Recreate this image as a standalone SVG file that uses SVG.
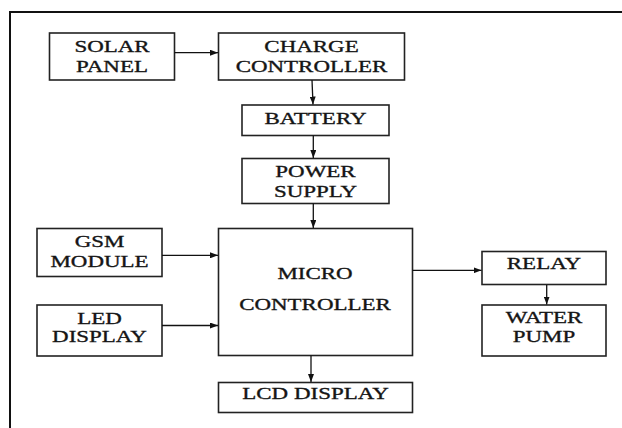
<svg xmlns="http://www.w3.org/2000/svg" width="622" height="428" viewBox="0 0 622 428">
<style>
.box{fill:#fff;stroke:#222;stroke-width:1.6}
.t{font-family:"Liberation Serif","Times New Roman",serif;font-size:17px;fill:#151515;stroke:#151515;stroke-width:0.35;text-anchor:middle}
.c{stroke:#111;stroke-width:1.3;fill:none;marker-end:url(#ah)}
.frame{stroke:#111;stroke-width:2;fill:none}
</style>
<defs>
<marker id="ah" markerWidth="8" markerHeight="6" refX="8" refY="3" orient="auto" markerUnits="userSpaceOnUse">
<path d="M0,0 L8,3 L0,6 z" fill="#111"/>
</marker>
</defs>
<rect width="622" height="428" fill="#fff"/>
<path class="frame" d="M10,428 V12 H622"/>
<g id="solar-panel">
<rect class="box" x="49.5" y="33" width="125" height="47"/>
<text class="t" transform="translate(112,52) scale(1.35,1)">SOLAR</text>
<text class="t" transform="translate(112,71.5) scale(1.35,1)">PANEL</text>
</g>
<g id="charge-controller">
<rect class="box" x="218.5" y="33" width="186" height="47"/>
<text class="t" transform="translate(311.5,52) scale(1.35,1)">CHARGE</text>
<text class="t" transform="translate(311.5,71.5) scale(1.35,1)">CONTROLLER</text>
</g>
<g id="battery">
<rect class="box" x="242" y="105" width="147" height="30.5"/>
<text class="t" transform="translate(315.5,124) scale(1.35,1)">BATTERY</text>
</g>
<g id="power-supply">
<rect class="box" x="242" y="158.5" width="147" height="45"/>
<text class="t" transform="translate(315.5,177) scale(1.35,1)">POWER</text>
<text class="t" transform="translate(315.5,197) scale(1.35,1)">SUPPLY</text>
</g>
<g id="gsm-module">
<rect class="box" x="37" y="228.5" width="125" height="48"/>
<text class="t" transform="translate(99.5,247) scale(1.35,1)">GSM</text>
<text class="t" transform="translate(99.5,267) scale(1.35,1)">MODULE</text>
</g>
<g id="micro-controller">
<rect class="box" x="218.5" y="228.5" width="194" height="127"/>
<text class="t" transform="translate(315,279) scale(1.35,1)">MICRO</text>
<text class="t" transform="translate(315,309.5) scale(1.35,1)">CONTROLLER</text>
</g>
<g id="relay">
<rect class="box" x="482" y="251.5" width="124" height="33"/>
<text class="t" transform="translate(544,268.5) scale(1.35,1)">RELAY</text>
</g>
<g id="led-display">
<rect class="box" x="37" y="305" width="125" height="51"/>
<text class="t" transform="translate(99.5,323.5) scale(1.35,1)">LED</text>
<text class="t" transform="translate(99.5,342) scale(1.35,1)">DISPLAY</text>
</g>
<g id="water-pump">
<rect class="box" x="482" y="305" width="124" height="51"/>
<text class="t" transform="translate(544,323) scale(1.35,1)">WATER</text>
<text class="t" transform="translate(544,342) scale(1.35,1)">PUMP</text>
</g>
<g id="lcd-display">
<rect class="box" x="218.5" y="382.5" width="194" height="30"/>
<text class="t" transform="translate(315.5,399) scale(1.35,1)">LCD DISPLAY</text>
</g>
<g id="connectors">
<line class="c" x1="174.5" y1="52.7" x2="218" y2="52.7"/>
<line class="c" x1="312" y1="80" x2="313" y2="104.5"/>
<line class="c" x1="313.3" y1="135.5" x2="313.3" y2="158"/>
<line class="c" x1="313.3" y1="203.5" x2="313.3" y2="228"/>
<line class="c" x1="162" y1="255.3" x2="218" y2="255.3"/>
<line class="c" x1="162" y1="325.5" x2="218" y2="325.5"/>
<line class="c" x1="412.5" y1="270.3" x2="481.5" y2="270.3"/>
<line class="c" x1="546.7" y1="285" x2="546.7" y2="304.5"/>
<line class="c" x1="311" y1="355.5" x2="311" y2="382"/>
</g>
</svg>
